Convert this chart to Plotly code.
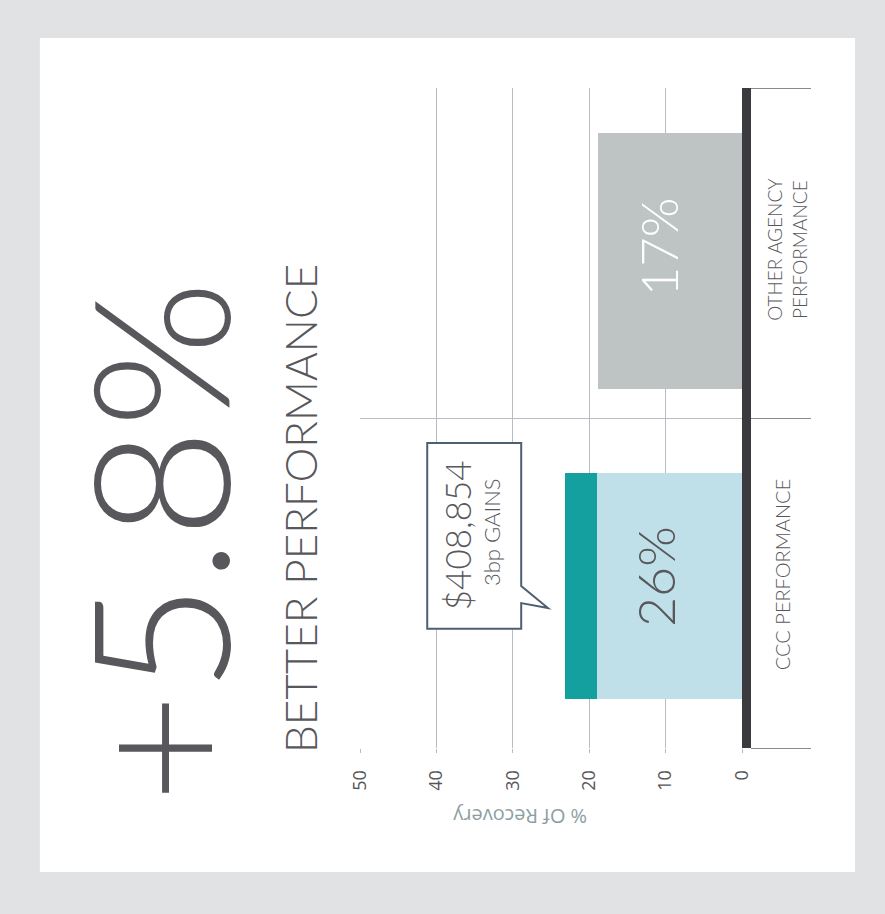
import plotly.graph_objects as go

# ---- data ----
categories = ["CCC PERFORMANCE", "OTHER AGENCY PERFORMANCE"]
category_labels = ["CCC PERFORMANCE", "OTHER AGENCY<br>PERFORMANCE"]
other_recovery = [18.8]          # grey bar (Other agency)
ccc_base_recovery = [19.0]       # light blue part (CCC)
ccc_gain_recovery = [4.2]        # teal part (CCC gain)
bar_labels = ["26%", "17%"]
x_ticks = [0, 10, 20, 30, 40, 50]
x_tick_labels = ["0", "10", "20", "30", "40", "50"]
headline = "+5.8%"
subheadline = "BETTER PERFORMANCE"
callout_amount = "$408,854"
callout_note = "3bp GAINS"
axis_title = "% Of Recovery"

GRID = "#b9bdc3"
DARK = "#3a3a3f"
TEXT = "#58585c"
THIN = "Lato, Open Sans, sans-serif"

fig = go.Figure()
fig.add_trace(go.Bar(
    y=[categories[1]], x=other_recovery, orientation="h",
    marker=dict(color="#bec4c4", line=dict(width=0)),
    width=0.776, offset=-0.412, hoverinfo="skip", showlegend=False))
fig.add_trace(go.Bar(
    y=[categories[0]], x=ccc_base_recovery, orientation="h",
    marker=dict(color="#bfe0e8", line=dict(width=0)),
    width=0.685, offset=-0.352, hoverinfo="skip", showlegend=False))
fig.add_trace(go.Bar(
    y=[categories[0]], x=ccc_gain_recovery, base=ccc_base_recovery, orientation="h",
    marker=dict(color="#14a09e", line=dict(width=0)),
    width=0.685, offset=-0.352, hoverinfo="skip", showlegend=False))

shapes = [
    # white card
    dict(type="rect", xref="paper", yref="paper", x0=-0.838, x1=1.296, y0=-0.188, y1=1.0758,
         fillcolor="white", line=dict(width=0), layer="below"),
    # callout box
    dict(type="path", xref="x", yref="y",
         path="M 41.2,0.424 L 28.9,0.424 L 28.9,-0.009 L 25.4,-0.076 L 28.9,-0.061 L 28.9,-0.139 L 41.2,-0.139 Z",
         fillcolor="white", line=dict(color="#4f5f72", width=2), layer="above"),
]


def ann(text, x, y, size, color=TEXT, angle=-90, ref="paper", family=THIN, weight=300):
    return dict(text=text, xref=ref, yref=("y" if ref == "x" else ref), x=x, y=y, textangle=angle,
                showarrow=False, xanchor="center", yanchor="middle",
                font=dict(family=family, size=size, color=color, weight=weight))


annotations = [
    ann(headline, -0.536, 0.312, 190),
    ann(subheadline, -0.157, 0.362, 44),
    ann(bar_labels[1], 11.0, 1.02, 51, color="white", ref="x"),
    ann(bar_labels[0], 11.3, 0.02, 52, ref="x"),
    ann(category_labels[1], 1.118, 0.755, 19),
    ann(category_labels[0], 1.105, 0.262, 20),
    ann(callout_amount, 37.3, 0.145, 35, ref="x"),
    ann(callout_note, 32.7, 0.155, 22, ref="x"),
    ann(axis_title, 0.419, -0.103, 20, color="#8d9ea3", angle=180,
        family="Open Sans, sans-serif", weight=400),
]

fig.update_layout(
    width=885, height=914,
    margin=dict(l=360, r=143, t=88, b=166, pad=0),
    paper_bgcolor="#e1e2e4", plot_bgcolor="white",
    barmode="overlay", bargap=0,
    shapes=shapes, annotations=annotations,
    xaxis=dict(range=[50, 0], tickvals=x_ticks, ticktext=x_tick_labels,
               showgrid=True, gridcolor=GRID, gridwidth=1, zeroline=False, showline=False,
               ticks="outside", ticklen=4, tickcolor=GRID, tickangle=-90,
               ticklabelstandoff=10,
               tickfont=dict(family="Open Sans, sans-serif", size=18, color="#555558")),
    yaxis=dict(type="category", categoryorder="array", categoryarray=categories,
               range=[-0.5, 1.5], side="right", showline=True, linewidth=9, linecolor=DARK,
               tickson="boundaries", ticks="outside", ticklen=60, tickcolor="#8a8a8a", tickwidth=1,
               showticklabels=False, showgrid=True, gridcolor=GRID, gridwidth=1, zeroline=False),
)

fig.write_html(
    "out.html",
    config={"displayModeBar": False},
    post_script="document.body.style.margin='0';document.body.style.background='#e1e2e4';",
)
